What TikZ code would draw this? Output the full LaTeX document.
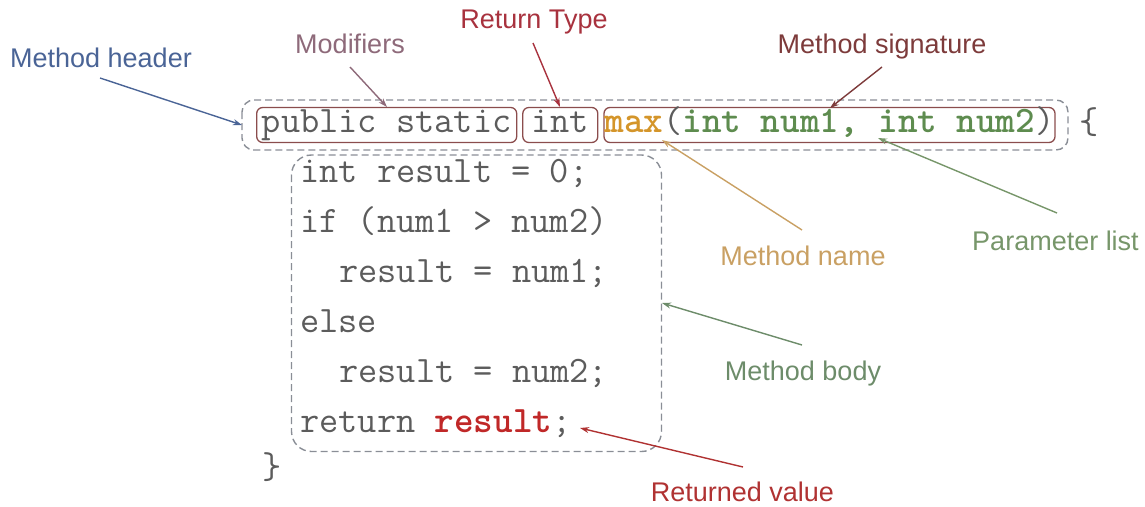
\documentclass[tikz,border=0pt]{standalone}
\usepackage{fontspec}
\setmainfont{Liberation Sans}
\usetikzlibrary{arrows.meta}
\definecolor{hdrblue}{HTML}{4A6496}
\definecolor{modcol}{HTML}{8E6A7A}
\definecolor{retcol}{HTML}{A8323E}
\definecolor{sigcol}{HTML}{7D3B3B}
\definecolor{namecol}{HTML}{C9A063}
\definecolor{parcol}{HTML}{77966A}
\definecolor{bodycol}{HTML}{6D8C6A}
\definecolor{rvcol}{HTML}{B03232}
\definecolor{codegray}{HTML}{5C5C5C}
\definecolor{maxcol}{HTML}{D4952A}
\definecolor{pgreen}{HTML}{5E8C4F}
\definecolor{resred}{HTML}{C02828}
\definecolor{boxred}{HTML}{8B4D4D}
\definecolor{dashgray}{HTML}{8A8E96}
\newcommand{\codesize}{\ttfamily\fontsize{37.3}{42}\selectfont}
\begin{document}
\begin{tikzpicture}[x=1pt,y=-1pt,
  lbl/.style={font=\fontsize{27}{32}\selectfont, inner sep=0, anchor=base},
  code/.style={font=\codesize, text=codegray, inner sep=0, anchor=base west},
  ibox/.style={draw=boxred, line width=1.3pt, rounded corners=6pt, minimum height=35pt,
    text height=22pt, text depth=7pt, inner sep=0, font=\codesize, text=codegray},
  dbox/.style={draw=dashgray, dash pattern=on 7pt off 4pt, line width=1.4pt},
  arr/.style={line width=1.4pt, -{Stealth[length=9pt,width=6pt]}}]
\useasboundingbox (0,0) rectangle (1145,506);
% header boxes
\draw[dbox, rounded corners=12pt] (242,100) rectangle (1068,150);
\node[ibox, minimum width=260pt] (mods) at (386.7,125) {public static};
\node[ibox, minimum width=75pt] (rtype) at (560.3,125) {int};
\node[ibox, minimum width=451pt] (sig) at (829.5,125) {\textcolor{maxcol}{\bfseries max}(\textcolor{pgreen}{\bfseries int num1, int num2})};
\node[code] (lbrace) at (1079,133) {\{};
% body
\draw[dbox, rounded corners=20pt] (291.5,155) rectangle (661.5,451.5);
\node[code] (l1) at (300,182) {int result = 0;};
\node[code] (l2) at (300,232) {if (num1 > num2)};
\node[code] (l3) at (339,282) {result = num1;};
\node[code] (l4) at (300,332) {else};
\node[code] (l5) at (339,382) {result = num2;};
\node[code] (l6) at (300,432) {return \textcolor{resred}{\bfseries result};};
\node[code] (rbrace) at (262,478) {\}};
% labels
\node[lbl, text=hdrblue] (Lhdr) at (101,67) {Method header};
\node[lbl, text=modcol] (Lmod) at (350,53) {Modifiers};
\node[lbl, text=retcol] (Lret) at (534,28) {Return Type};
\node[lbl, text=sigcol] (Lsig) at (882,53) {Method signature};
\node[lbl, text=namecol] (Lname) at (803,265) {Method name};
\node[lbl, text=parcol] (Lpar) at (1055.5,250) {Parameter list};
\node[lbl, text=bodycol] (Lbody) at (803,380) {Method body};
\node[lbl, text=rvcol] (Lrv) at (742.5,501.5) {Returned value};
% arrow coordinates
\coordinate (s1) at (100,78);  \coordinate (t1) at (242,125);
\coordinate (s2) at (350,67);  \coordinate (t2) at (387,107);
\coordinate (s3) at (533,43);  \coordinate (t3) at (560,107);
\coordinate (s4) at (882,67);  \coordinate (t4) at (830,108);
\coordinate (s5) at (802,230); \coordinate (t5) at (662,140);
\coordinate (s6) at (1057,213);\coordinate (t6) at (878,138);
\coordinate (s7) at (802,345); \coordinate (t7) at (662,303);
\coordinate (s8) at (743,467); \coordinate (t8) at (580,428);
\draw[arr, hdrblue] (s1) -- (t1);
\draw[arr, modcol] (s2) -- (t2);
\draw[arr, retcol] (s3) -- (t3);
\draw[arr, sigcol] (s4) -- (t4);
\draw[arr, namecol] (s5) -- (t5);
\draw[arr, parcol] (s6) -- (t6);
\draw[arr, bodycol] (s7) -- (t7);
\draw[arr, rvcol] (s8) -- (t8);
\end{tikzpicture}
\end{document}
